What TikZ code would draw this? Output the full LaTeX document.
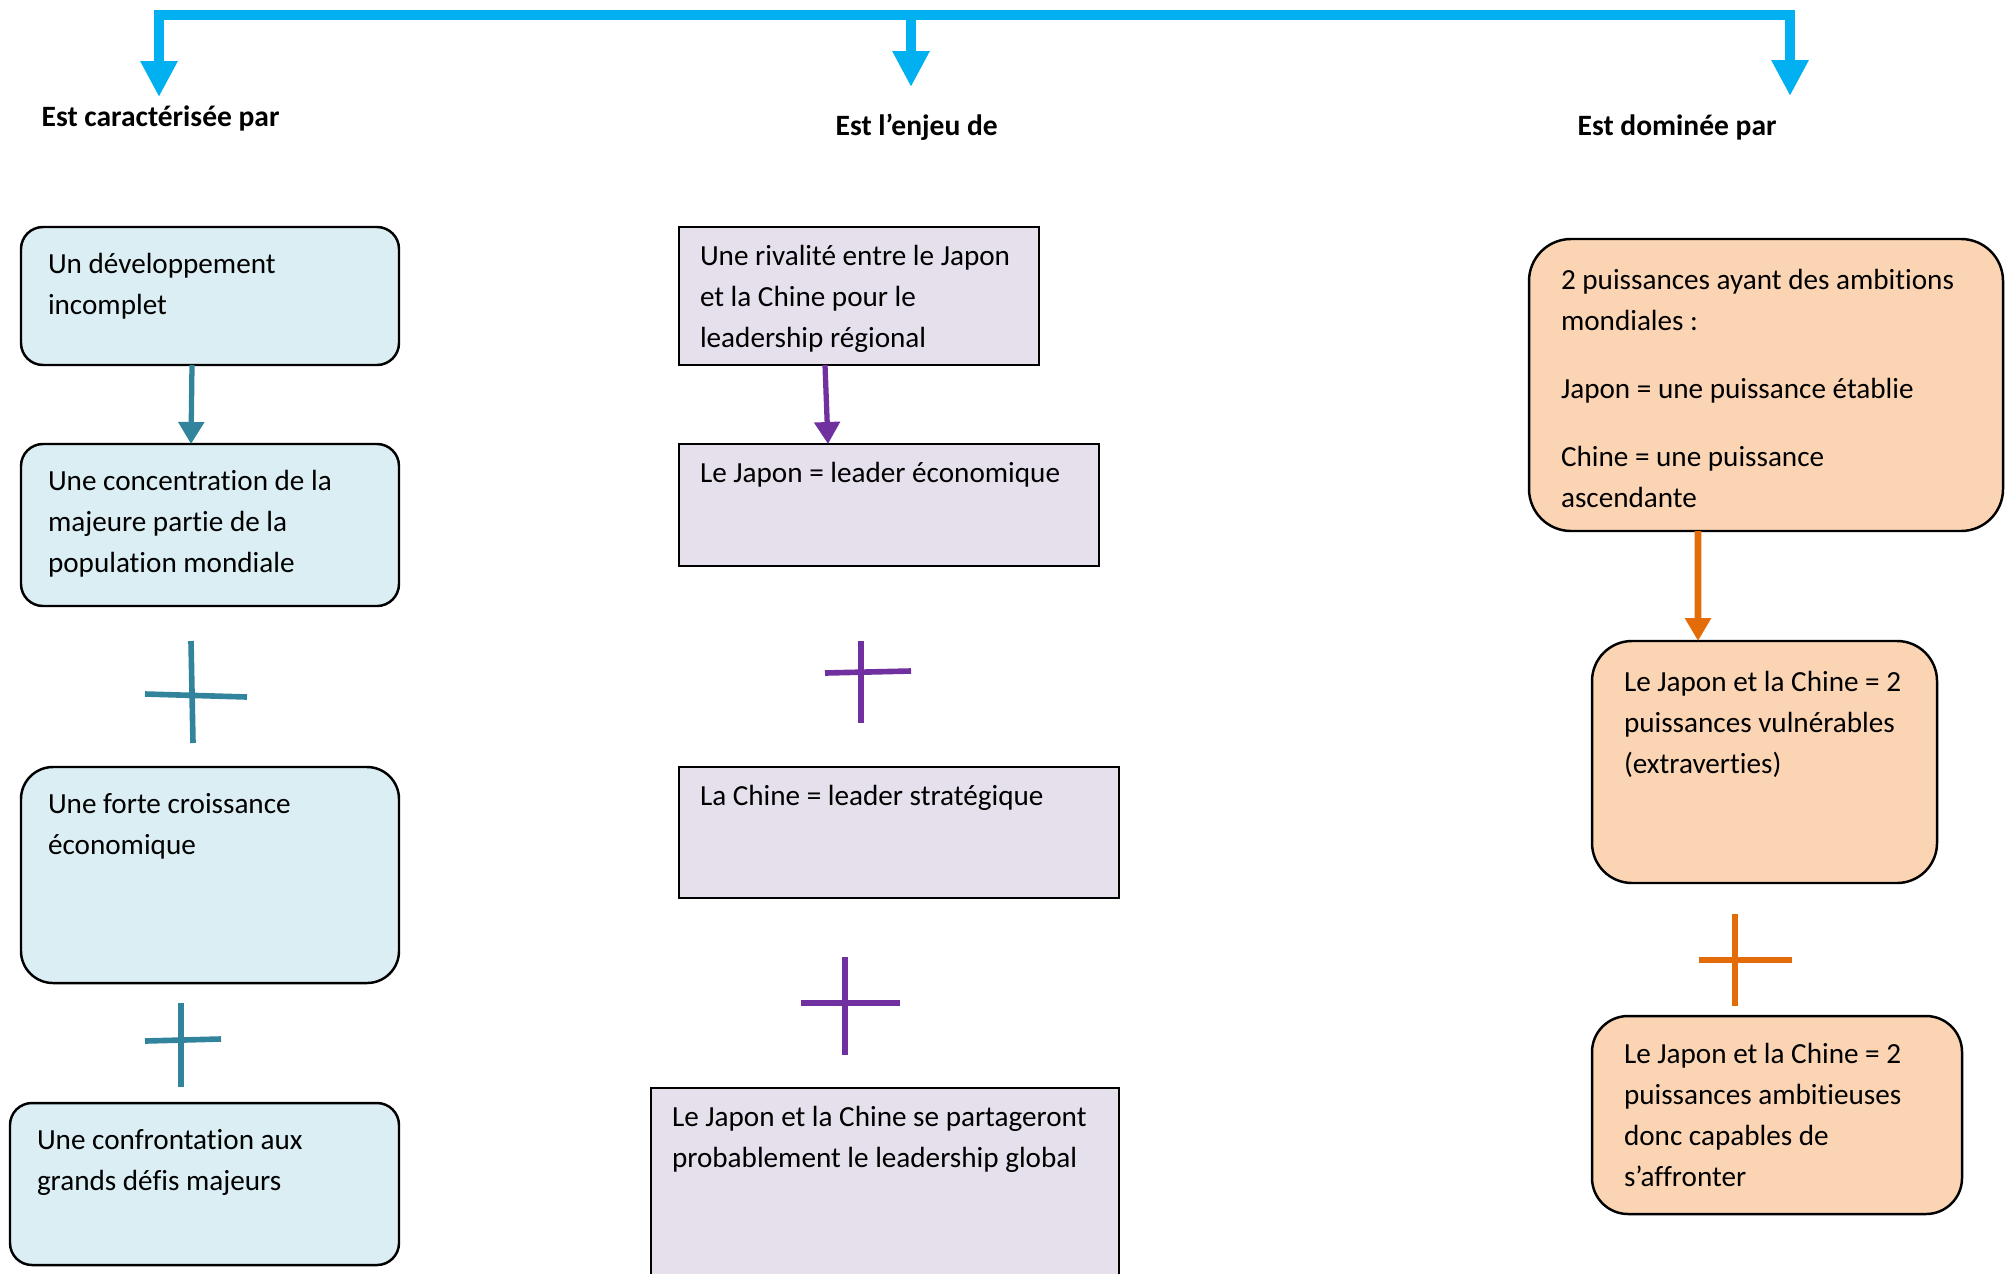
\documentclass[tikz,border=0pt]{standalone}
\usepackage{fontspec}
\setmainfont{Carlito}[Ligatures=NoCommon]
\usepackage{tikz}
\usetikzlibrary{
    arrows.meta,
    positioning
}
\definecolor{hubblue}{HTML}{00B0F0}
\definecolor{tealline}{HTML}{31849B}
\definecolor{purpleline}{HTML}{7030A0}
\definecolor{orangeline}{HTML}{E36C09}
\definecolor{bluefill}{HTML}{DAEEF3}
\definecolor{mauvefill}{HTML}{E5E0EC}
\definecolor{peachfill}{HTML}{FBD4B4}
\tikzstyle{heading}=[
    anchor=base west,
    inner sep=0pt,
    font=\fontsize{8.4}{11.67}\selectfont\bfseries
]
\tikzstyle{boxtext}=[
    anchor=north west,
    align=left,
    draw=black,
    line width=0.7pt,
    inner ysep=0pt,
    outer sep=0pt,
    execute at begin node={\spaceskip=0pt\xspaceskip=0pt\relax}
]
\tikzstyle{bluebox}=[
    boxtext,
    rectangle,
    rounded corners=0.22cm,
    fill=bluefill,
    inner xsep=0.27cm,
    text height=0.46cm
]
\tikzstyle{mauvebox}=[
    boxtext,
    rectangle,
    fill=mauvefill,
    inner xsep=0.21cm,
    text height=0.38cm
]
\tikzstyle{peachbox}=[
    boxtext,
    rectangle,
    rounded corners=0.42cm,
    fill=peachfill,
    inner xsep=0.32cm,
    text height=0.50cm
]
\tikzstyle{hubarrow}=[line width=3.1pt,draw=hubblue,-{Triangle[length=0.36cm,width=0.35cm]}]
\tikzstyle{tealarrow}=[line width=1.5pt,draw=tealline,-{Triangle[length=0.22cm,width=0.25cm]}]
\tikzstyle{purplearrow}=[line width=1.5pt,draw=purpleline,-{Triangle[length=0.22cm,width=0.25cm]}]
\tikzstyle{orangearrow}=[line width=1.9pt,draw=orangeline,-{Triangle[length=0.23cm,width=0.25cm]}]
\tikzstyle{plussign}=[line width=1.6pt]

\begin{document}
\begin{tikzpicture}[every node/.style={font=\fontsize{8.3}{11.67}\selectfont}]
\useasboundingbox (0,0) rectangle (20.13,-12.73);
\clip (0,0) rectangle (20.13,-12.73);

% top bar and the three headings
\coordinate (tipL) at (1.59,-0.97);
\coordinate (tipM) at (9.11,-0.87);
\coordinate (tipR) at (17.90,-0.96);
\coordinate (hubM) at (9.11,-0.15);
\node[heading] (cara) at (0.41,-1.26) {Est caractérisée par};
\node[heading] (enjeu) at (8.35,-1.35) {Est l’enjeu de};
\node[heading] (domine) at (15.77,-1.35) {Est dominée par};
\draw[hubarrow,{Triangle[length=0.36cm,width=0.35cm]}-{Triangle[length=0.36cm,width=0.35cm]}] (tipL) |- (hubM) -| (tipR);
\draw[hubarrow] (hubM) -- (tipM);

% left column
\node[bluebox,text width=3.24cm,text depth=0.92cm] (incomplet) at (0.21,-2.27) {Un développement\\incomplet};
\node[bluebox,text width=3.24cm,text depth=1.16cm,below=0.79cm of incomplet.south west,anchor=north west] (concentration) {Une concentration de la\\majeure partie de la\\population mondiale};
\node[bluebox,text width=3.24cm,text depth=1.70cm,below=1.61cm of concentration.south west,anchor=north west,rounded corners=0.32cm] (croissance) {Une forte croissance\\économique};
\node[bluebox,text width=3.35cm,text depth=1.16cm,below=1.20cm of croissance.south west,xshift=-0.11cm,anchor=north west] (defis) {Une confrontation aux\\grands défis majeurs};

% middle column
\node[mauvebox,text width=3.18cm,text depth=1.00cm] (rivalite) at (6.79,-2.27) {Une rivalité entre le Japon\\et la Chine pour le\\leadership régional};
\node[mauvebox,text width=3.78cm,text depth=0.84cm,below=0.79cm of rivalite.south west,anchor=north west] (japon) {Le Japon = leader économique};
\node[mauvebox,text width=3.98cm,text depth=0.93cm,below=2.01cm of japon.south west,anchor=north west] (chine) {La Chine = leader stratégique};
\node[mauvebox,text width=4.26cm,text depth=1.90cm,below=1.90cm of chine.south west,xshift=-0.28cm,anchor=north west] (partage) {Le Japon et la Chine se partageront\\probablement le leadership global};

% right column
\node[peachbox,text width=4.10cm,text depth=2.42cm] (ambitions) at (15.29,-2.39) {2 puissances ayant des ambitions\\mondiales :\\[0.27cm]Japon = une puissance établie\\[0.27cm]Chine = une puissance\\ascendante};
\node[peachbox,text width=2.81cm,text depth=1.92cm,below=1.10cm of ambitions.south west,xshift=0.63cm,anchor=north west,rounded corners=0.40cm] (vulnerables) {Le Japon et la Chine = 2\\puissances vulnérables\\(extraverties)};
\node[peachbox,text width=3.06cm,text height=0.47cm,text depth=1.51cm,below=1.33cm of vulnerables.south west,anchor=north west,rounded corners=0.36cm] (ambitieuses) {Le Japon et la Chine = 2\\puissances ambitieuses\\donc capables de\\s’affronter};

% arrows inside the columns
\draw[tealarrow] ([xshift=-0.18cm]incomplet.south) -- ([xshift=-0.19cm]concentration.north);
\draw[purplearrow] ([xshift=-0.34cm]rivalite.south) -- ([xshift=-0.61cm]japon.north);
\draw[orangearrow] ([xshift=-0.68cm]ambitions.south) -- ([xshift=-0.665cm]vulnerables.north);

% plus signs
\draw[plussign,tealline] (1.91,-6.41) -- (1.93,-7.43);
\draw[plussign,tealline] (1.45,-6.94) -- (2.47,-6.97);
\draw[plussign,tealline] (1.81,-10.03) -- (1.81,-10.87);
\draw[plussign,tealline] (1.45,-10.41) -- (2.21,-10.39);
\draw[plussign,purpleline] (8.61,-6.41) -- (8.61,-7.23);
\draw[plussign,purpleline] (8.25,-6.73) -- (9.11,-6.71);
\draw[plussign,purpleline] (8.45,-9.57) -- (8.45,-10.55);
\draw[plussign,purpleline] (8.01,-10.03) -- (9.00,-10.03);
\draw[plussign,orangeline] (17.35,-9.14) -- (17.35,-10.06);
\draw[plussign,orangeline] (16.99,-9.60) -- (17.92,-9.60);
\end{tikzpicture}
\end{document}
